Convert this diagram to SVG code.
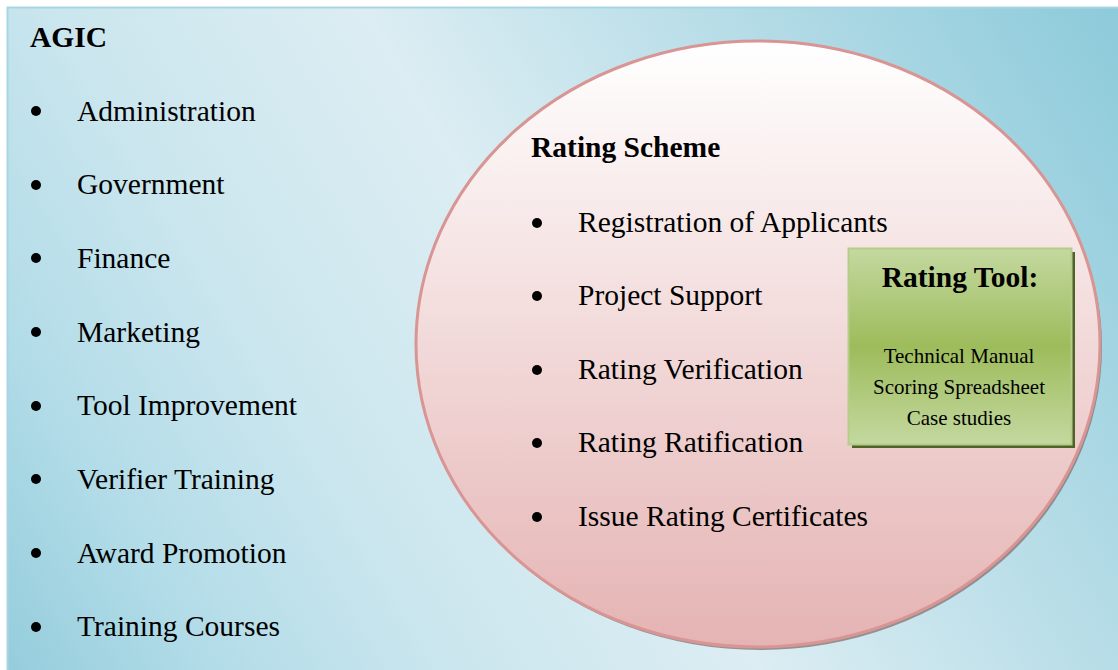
<svg xmlns="http://www.w3.org/2000/svg" width="1118" height="670" viewBox="0 0 1118 670">
<defs>
<linearGradient id="bg" gradientUnits="userSpaceOnUse" x1="0" y1="670" x2="1118" y2="0">
<stop offset="0" stop-color="#94ccdc"/>
<stop offset="0.14" stop-color="#b2dce8"/>
<stop offset="0.3" stop-color="#cbe6ee"/>
<stop offset="0.5" stop-color="#dcedf3"/>
<stop offset="0.7" stop-color="#bcdfe9"/>
<stop offset="1" stop-color="#8ccada"/>
</linearGradient>
<linearGradient id="circ" x1="0" y1="0" x2="0" y2="1">
<stop offset="0" stop-color="#ffffff"/>
<stop offset="1" stop-color="#e5b3b3"/>
</linearGradient>
<linearGradient id="green" x1="0" y1="0" x2="0" y2="1">
<stop offset="0" stop-color="#c4d8a0"/>
<stop offset="0.5" stop-color="#9dbc5b"/>
<stop offset="1" stop-color="#c4d8a0"/>
</linearGradient>
<style>
.t{font-family:"Liberation Serif","Times New Roman",serif;font-size:29.5px;fill:#000}
.b{font-weight:bold}
.s{font-family:"Liberation Serif","Times New Roman",serif;font-size:21px;fill:#000;text-anchor:middle}
</style>
</defs>
<rect x="0" y="0" width="1118" height="670" fill="#ffffff"/>
<g id="agic">
<rect x="7.5" y="7.5" width="1120" height="670" fill="url(#bg)" stroke="#a9d5e2" stroke-width="2"/>
<text class="t b" x="30" y="47">AGIC</text>
<g fill="#000">
<circle cx="36" cy="111" r="5"/>
<circle cx="36" cy="185" r="5"/>
<circle cx="36" cy="258" r="5"/>
<circle cx="36" cy="332" r="5"/>
<circle cx="36" cy="406" r="5"/>
<circle cx="36" cy="479" r="5"/>
<circle cx="36" cy="553" r="5"/>
<circle cx="36" cy="627" r="5"/>
</g>
<text class="t" x="77" y="120.5">Administration</text>
<text class="t" x="77" y="194.2">Government</text>
<text class="t" x="77" y="267.9">Finance</text>
<text class="t" x="77" y="341.6">Marketing</text>
<text class="t" x="77" y="415.3">Tool Improvement</text>
<text class="t" x="77" y="489">Verifier Training</text>
<text class="t" x="77" y="562.7">Award Promotion</text>
<text class="t" x="77" y="636.4">Training Courses</text>
</g>
<g id="rating-scheme">
<ellipse cx="760" cy="347" rx="342" ry="303" fill="#7d7374" opacity="0.75"/>
<ellipse cx="758" cy="344" rx="342" ry="303" fill="url(#circ)" stroke="#d99594" stroke-width="3"/>
<text class="t b" x="531" y="157">Rating Scheme</text>
<g fill="#000">
<circle cx="537" cy="223" r="5"/>
<circle cx="537" cy="296" r="5"/>
<circle cx="537" cy="370" r="5"/>
<circle cx="537" cy="443" r="5"/>
<circle cx="537" cy="517" r="5"/>
</g>
<text class="t" x="578" y="232">Registration of Applicants</text>
<text class="t" x="578" y="305">Project Support</text>
<text class="t" x="578" y="379">Rating Verification</text>
<text class="t" x="578" y="452">Rating Ratification</text>
<text class="t" x="578" y="526">Issue Rating Certificates</text>
</g>
<g id="rating-tool">
<rect x="852" y="252" width="223" height="196" fill="#4f6228"/>
<rect x="848.5" y="248.5" width="223" height="196" fill="url(#green)" stroke="#b5cd87" stroke-width="2"/>
<text class="t b" x="960" y="287" text-anchor="middle">Rating Tool:</text>
<text class="s" x="959" y="363">Technical Manual</text>
<text class="s" x="959" y="394">Scoring Spreadsheet</text>
<text class="s" x="959" y="425">Case studies</text>
</g>
<g id="connectors"/>
</svg>
